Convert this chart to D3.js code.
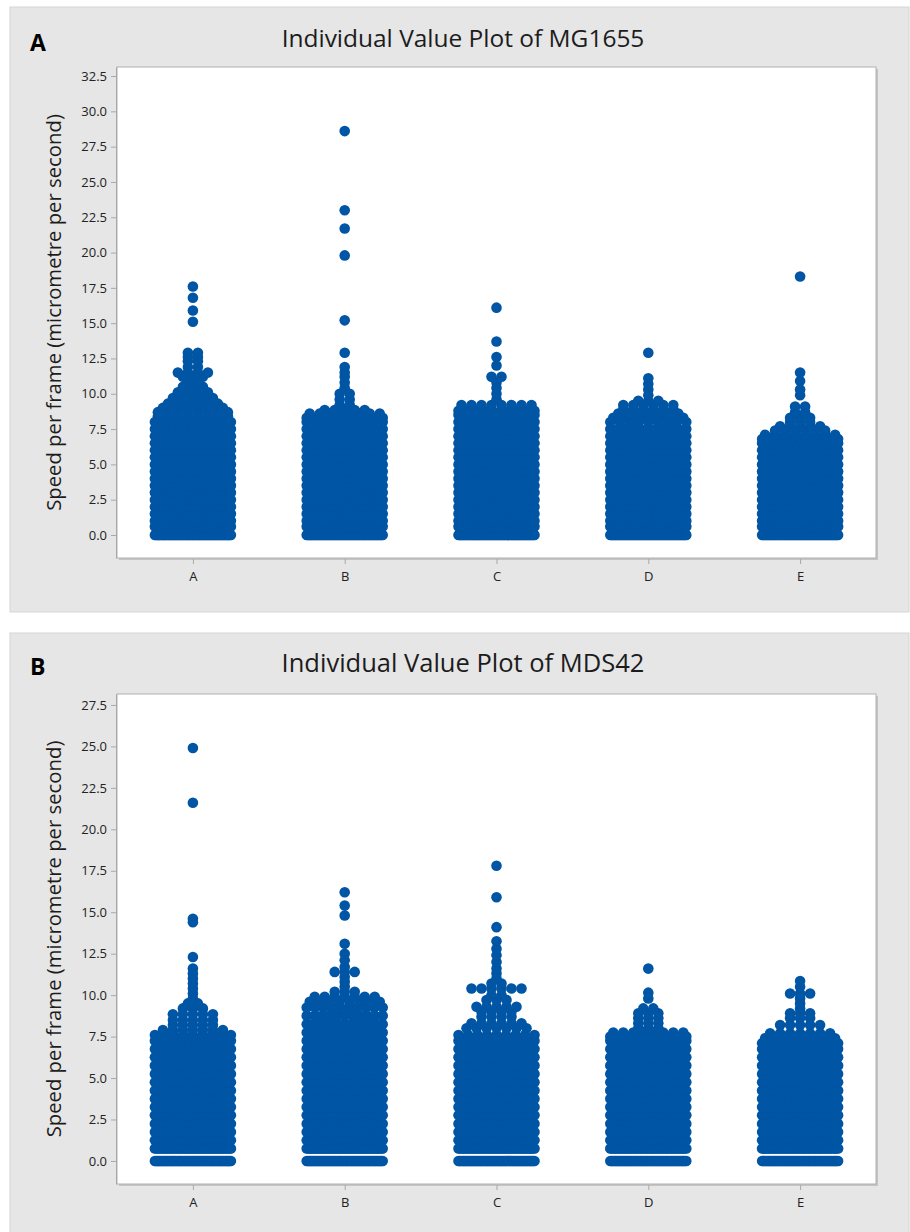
<!DOCTYPE html>
<html>
<head>
<meta charset="utf-8">
<script src="https://cdn.jsdelivr.net/npm/d3@7"></script>
<style>
  body { margin: 0; background: #ffffff; }
  svg { display: block; }
</style>
</head>
<body>
<svg id="chart" width="910" height="1232"></svg>
<script>
// Groups on the x axis (shared by both strains)
const categories = ["A", "B", "C", "D", "E"];

// Y tick labels
const mg1655Ticks = [0, 2.5, 5, 7.5, 10, 12.5, 15, 17.5, 20, 22.5, 25, 27.5, 30, 32.5];
const mds42Ticks = [0, 2.5, 5, 7.5, 10, 12.5, 15, 17.5, 20, 22.5, 25, 27.5];

// Observations binned by speed: [speed, number of observations at that speed]
const mg1655A = [[0,64],[0.6,52],[1,50],[1.5,48],[2,46],[2.5,44],[3,42],[3.5,40],[4,36],[4.5,32],[5,28],[5.5,24],[6,21],[6.5,18],[7,15],[7.5,13],[8,11],[8.4,8],[8.7,8],[9,7],[9.3,6],[9.7,5],[10.1,4],[10.5,3],[10.9,2],[11.2,3],[11.5,4],[11.9,2],[12.3,2],[12.6,2],[12.9,2],[15.1,1],[15.9,1],[16.8,1],[17.6,1]];
const mg1655B = [[0,60],[0.6,50],[1,50],[1.5,48],[2,46],[2.5,44],[3,40],[3.5,38],[4,34],[4.5,30],[5,26],[5.5,22],[6,19],[6.5,16],[7,13],[7.5,11],[8,10],[8.3,9],[8.6,8],[8.85,5],[9.2,2],[9.6,2],[10,2],[10.4,1],[10.8,1],[11.2,1],[11.5,1],[11.9,1],[12.9,1],[15.2,1],[19.8,1],[21.7,1],[23,1],[28.6,1]];
const mg1655C = [[0,62],[0.6,50],[1,48],[1.5,46],[2,44],[2.5,42],[3,40],[3.5,38],[4,34],[4.5,30],[5,27],[5.5,24],[6,21],[6.5,18],[7,16],[7.5,14],[8,12],[8.5,11],[8.8,10],[9.2,8],[9.6,1],[10,1],[10.4,1],[10.8,1],[11.2,2],[12,1],[12.6,1],[13.7,1],[16.1,1]];
const mg1655D = [[0,58],[0.6,48],[1,46],[1.5,44],[2,42],[2.5,40],[3,37],[3.5,34],[4,31],[4.5,28],[5,24],[5.5,21],[6,18],[6.5,15],[7,13],[7.5,11],[8,9],[8.3,8],[8.6,7],[8.9,6],[9.2,6],[9.5,3],[9.9,1],[10.3,1],[10.7,1],[11.1,1],[12.9,1]];
const mg1655E = [[0,56],[0.6,46],[1,44],[1.5,42],[2,40],[2.5,37],[3,34],[3.5,31],[4,28],[4.5,24],[5,21],[5.5,18],[6,15],[6.5,12],[6.8,9],[7.1,8],[7.4,6],[7.7,5],[8,3],[8.3,3],[8.7,2],[9.1,2],[9.9,1],[10.3,1],[10.9,1],[11.5,1],[18.3,1]];

const mds42A = [[0,66],[0.75,50],[1.25,48],[1.75,46],[2.25,44],[2.75,42],[3.25,40],[3.75,36],[4.25,33],[4.75,30],[5.25,26],[5.75,22],[6.25,19],[6.75,16],[7.25,12],[7.6,9],[7.9,7],[8.2,5],[8.5,5],[8.85,5],[9.2,3],[9.5,2],[9.8,1],[10.1,1],[10.4,1],[10.7,1],[11,1],[11.3,1],[11.6,1],[12.3,1],[14.4,1],[14.6,1],[21.6,1],[24.9,1]];
const mds42B = [[0,64],[0.75,52],[1.25,50],[1.75,48],[2.25,46],[2.75,44],[3.25,42],[3.75,40],[4.25,37],[4.75,34],[5.25,31],[5.75,28],[6.25,25],[6.75,22],[7.25,19],[7.75,16],[8.25,13],[8.75,11],[9.25,10],[9.6,8],[9.9,7],[10.2,3],[10.5,1],[10.8,1],[11.1,1],[11.4,3],[11.7,1],[12.1,1],[12.5,1],[13.1,1],[14.8,1],[15.4,1],[16.2,1]];
const mds42C = [[0,64],[0.75,50],[1.25,48],[1.75,46],[2.25,44],[2.75,42],[3.25,40],[3.75,36],[4.25,33],[4.75,30],[5.25,26],[5.75,22],[6.25,19],[6.75,15],[7.25,12],[7.6,9],[8,7],[8.3,6],[8.7,4],[9,4],[9.3,5],[9.7,3],[10,2],[10.4,6],[10.7,2],[11,1],[11.3,1],[11.6,1],[12,1],[12.4,1],[12.8,1],[13.25,1],[14.1,1],[15.9,1],[17.8,1]];
const mds42D = [[0,62],[0.75,48],[1.25,46],[1.75,44],[2.25,42],[2.75,40],[3.25,38],[3.75,35],[4.25,32],[4.75,29],[5.25,25],[5.75,21],[6.25,18],[6.75,15],[7.25,12],[7.5,9],[7.75,8],[8,3],[8.3,3],[8.6,3],[8.9,3],[9.2,2],[9.8,1],[10.15,1],[11.6,1]];
const mds42E = [[0,62],[0.75,48],[1.25,46],[1.75,44],[2.25,42],[2.75,40],[3.25,37],[3.75,34],[4.25,31],[4.75,28],[5.25,24],[5.75,20],[6.25,17],[6.75,13],[7.1,9],[7.4,8],[7.7,7],[8.2,5],[8.6,3],[8.9,3],[9.2,1],[9.5,1],[9.8,1],[10.1,3],[10.5,1],[10.85,1]];

const panels = [
  {
    letter: "A",
    title: "Individual Value Plot of MG1655",
    groups: [mg1655A, mg1655B, mg1655C, mg1655D, mg1655E],
    ticks: mg1655Ticks,
    domain: [-1.63, 33.14],
    box: { x: 10, y: 7, w: 899, h: 605 },
    plot: { x0: 117, x1: 876, y0: 67, y1: 558 },
    titleY: 47, letterY: 51
  },
  {
    letter: "B",
    title: "Individual Value Plot of MDS42",
    groups: [mds42A, mds42B, mds42C, mds42D, mds42E],
    ticks: mds42Ticks,
    domain: [-1.39, 28.16],
    box: { x: 10, y: 633, w: 899, h: 610 },
    plot: { x0: 117, x1: 876, y0: 694, y1: 1184 },
    titleY: 672, letterY: 675
  }
];

const FONT = "'Open Sans', 'Noto Sans', sans-serif";
const DOT = "#0055a4";
const R = 5.3;             // symbol radius
const GAP = 10;            // horizontal distance between tied observations
const MAX_SPAN = 76;       // widest spread of symbol centres within a group

const svg = d3.select("#chart");

function fitText(sel, target, base) {
  const len = sel.node().getComputedTextLength();
  sel.attr("font-size", base * target / len);
}

panels.forEach(p => {
  const g = svg.append("g");

  // panel background
  g.append("rect")
    .attr("x", p.box.x).attr("y", p.box.y)
    .attr("width", p.box.w).attr("height", p.box.h)
    .attr("fill", "#e6e6e6")
    .attr("stroke", "#d6d6d6").attr("stroke-width", 1);

  const x = d3.scalePoint().domain(categories).range([p.plot.x0, p.plot.x1]).padding(0.5);
  const y = d3.scaleLinear().domain(p.domain).range([p.plot.y1, p.plot.y0]);

  // plot area with a soft shadow on the right and bottom
  g.append("rect")
    .attr("x", p.plot.x0 + 2).attr("y", p.plot.y0 + 2)
    .attr("width", p.plot.x1 - p.plot.x0).attr("height", p.plot.y1 - p.plot.y0)
    .attr("fill", "#c4c4c4");
  g.append("rect")
    .attr("x", p.plot.x0).attr("y", p.plot.y0)
    .attr("width", p.plot.x1 - p.plot.x0).attr("height", p.plot.y1 - p.plot.y0)
    .attr("fill", "#ffffff")
    .attr("stroke", "#b0b0b0").attr("stroke-width", 1);

  // y axis
  const yAxis = d3.axisLeft(y).tickValues(p.ticks).tickFormat(d3.format(".1f"))
    .tickSizeInner(5).tickSizeOuter(0).tickPadding(4);
  const ya = g.append("g").attr("transform", `translate(${p.plot.x0 - 1},0)`).call(yAxis);
  ya.select(".domain").attr("stroke", "#a8a8a8");
  ya.selectAll(".tick line").attr("stroke", "#a8a8a8");
  ya.selectAll(".tick text").attr("font-family", FONT).attr("font-size", 13).attr("fill", "#222");

  // x axis
  const xAxis = d3.axisBottom(x).tickSizeInner(5).tickSizeOuter(0).tickPadding(8);
  const xa = g.append("g").attr("transform", `translate(0,${p.plot.y1 + 1})`).call(xAxis);
  xa.select(".domain").remove();
  xa.selectAll(".tick line").attr("stroke", "#a8a8a8");
  xa.selectAll(".tick text").attr("font-family", FONT).attr("font-size", 13).attr("fill", "#222");

  // individual values: tied observations are laid side by side around the group centre
  const dots = [];
  p.groups.forEach((rows, gi) => {
    const cx = x(categories[gi]);
    rows.forEach(([v, n]) => {
      const step = n > 1 ? Math.min(GAP, MAX_SPAN / (n - 1)) : 0;
      for (let i = 0; i < n; i++) {
        dots.push({ x: cx + (i - (n - 1) / 2) * step, v });
      }
    });
  });
  g.append("g").selectAll("circle").data(dots).join("circle")
    .attr("cx", d => d.x).attr("cy", d => y(d.v)).attr("r", R)
    .attr("fill", DOT);

  // title, panel letter and axis label
  const t = g.append("text")
    .attr("x", 463).attr("y", p.titleY)
    .attr("text-anchor", "middle")
    .attr("font-family", FONT).attr("font-weight", 500).attr("font-size", 20).attr("fill", "#1c1c1c")
    .text(p.title);
  fitText(t, 363, 20);

  g.append("text")
    .attr("x", 30).attr("y", p.letterY)
    .attr("font-family", FONT).attr("font-weight", "bold").attr("font-size", 23).attr("fill", "#000")
    .text(p.letter);

  const cy = (p.plot.y0 + p.plot.y1) / 2;
  const yl = g.append("text")
    .attr("transform", `translate(61,${cy}) rotate(-90)`)
    .attr("text-anchor", "middle")
    .attr("font-family", FONT).attr("font-weight", 500).attr("font-size", 17).attr("fill", "#1c1c1c")
    .text("Speed per frame (micrometre per second)");
  fitText(yl, 397, 17);
});
</script>
</body>
</html>
